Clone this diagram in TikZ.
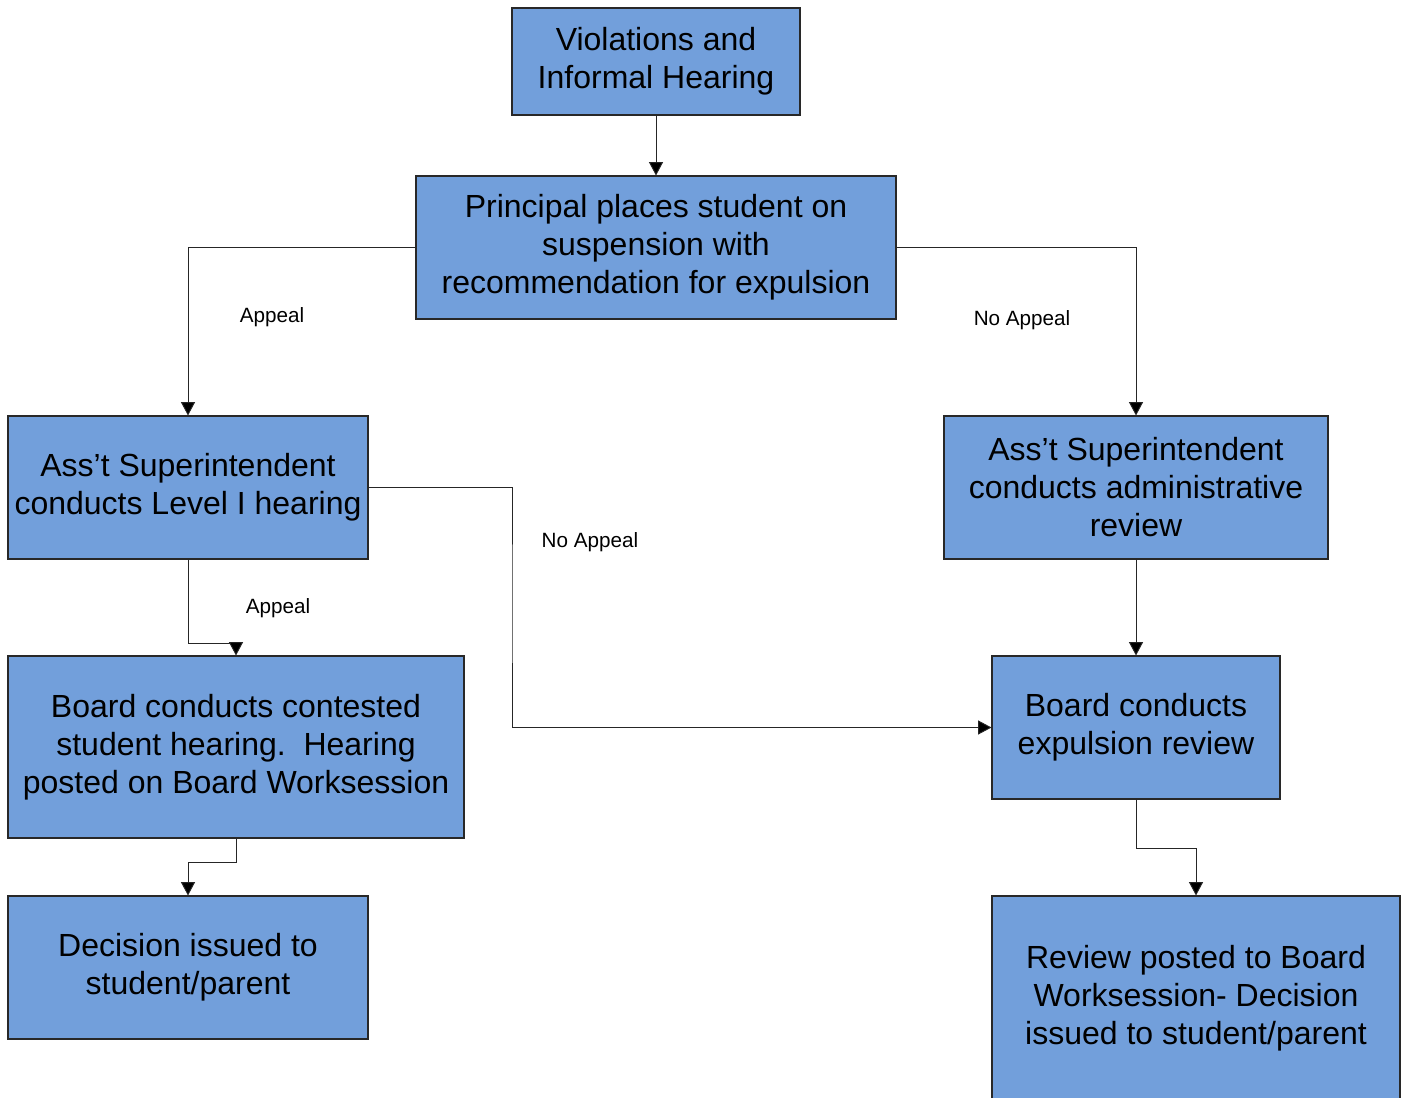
\documentclass[tikz,border=0pt]{standalone}
\usepackage{fontspec}
\setmainfont{Liberation Sans}
\usetikzlibrary{arrows.meta}
\definecolor{boxblue}{RGB}{114,159,219}
\definecolor{edgegray}{RGB}{40,40,40}
\begin{document}
\begin{tikzpicture}[x=0.75pt,y=-0.75pt,
  box/.style={draw=edgegray,fill=boxblue,line width=0.8pt,inner sep=0pt,align=center,
    font=\fontsize{24}{28.5}\selectfont},
  arr/.style={draw=black!85,line width=0.7pt,-{Triangle[width=10.5pt,length=10pt,fill=black]}},
  lbl/.style={font=\fontsize{15.5}{18}\selectfont,inner sep=0pt}]
\clip (0,0) rectangle (1407,1098);
\fill[white] (0,0) rectangle (1407,1098);
\node[box,minimum width=288*0.75pt,minimum height=107*0.75pt] (A) at (656,61.5) {Violations and\\Informal Hearing};
\node[box,minimum width=480*0.75pt,minimum height=143*0.75pt] (B) at (656,247.5) {Principal places student on\\suspension with\\recommendation for expulsion};
\node[box,minimum width=360*0.75pt,minimum height=143*0.75pt] (C) at (188,487.5) {Ass’t Superintendent\\conducts Level I hearing};
\node[box,minimum width=384*0.75pt,minimum height=143*0.75pt] (D) at (1136,487.5) {Ass’t Superintendent\\conducts administrative\\review};
\node[box,minimum width=456*0.75pt,minimum height=182*0.75pt] (E) at (236,747) {Board conducts contested\\student hearing.\ \ Hearing\\posted on Board Worksession};
\node[box,minimum width=288*0.75pt,minimum height=143*0.75pt] (F) at (1136,727.5) {Board conducts\\expulsion review};
\node[box,minimum width=360*0.75pt,minimum height=143*0.75pt] (G) at (188,967.5) {Decision issued to\\student/parent};
\node[box,minimum width=408*0.75pt,minimum height=204*0.75pt] (H) at (1196,998) {Review posted to Board\\Worksession- Decision\\issued to student/parent};
\coordinate (j1) at (236,643);
\coordinate (k1) at (512,600);
\coordinate (j2) at (188,862);
\coordinate (j3) at (1196,848);
\draw[arr] (A.south) -- (B.north);
\draw[arr] (B.west) -| (C.north);
\draw[arr] (B.east) -| (D.north);
\draw[arr] (C.south) |- (j1) -- (E.north);
\draw[arr] (C.east) -| (k1) |- (F.west);
\draw[arr] (D.south) -- (F.north);
\draw[arr] (E.south) |- (j2) -- (G.north);
\draw[arr] (F.south) |- (j3) -- (H.north);
\node[lbl] (l1) at (272,317) {Appeal};
\node[lbl] (l2) at (1022,320) {No Appeal};
\node[lbl] (l3) at (278,608) {Appeal};
\node[lbl] (l4) at (590,542) {No Appeal};
\end{tikzpicture}
\end{document}
